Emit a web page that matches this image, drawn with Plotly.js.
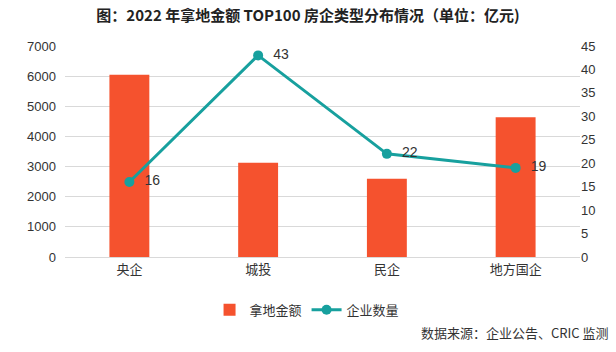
<!DOCTYPE html>
<html><head><meta charset="utf-8">
<script src="https://cdn.plot.ly/plotly-3.0.1.min.js"></script>
<style>body{margin:0;background:#fff}#c{width:616px;height:352px}</style>
</head><body><div id="c"></div>
<script>
const categories = ["央企", "城投", "民企", "地方国企"];
const landAmount = [6050, 3130, 2600, 4640];
const companyCount = [16, 43, 22, 19];
const leftTicks = [0, 1000, 2000, 3000, 4000, 5000, 6000, 7000];
const rightTicks = [0, 5, 10, 15, 20, 25, 30, 35, 40, 45];

const cjk = '"Noto Sans CJK SC", sans-serif';
const num = '"Liberation Sans", Arial, sans-serif';

const data = [
  {type: 'bar', x: categories, y: landAmount, name: '拿地金额',
   marker: {color: '#F5522E'}, width: 0.31, yaxis: 'y'},
  {type: 'scatter', mode: 'lines+markers+text', x: categories, y: companyCount,
   name: '企业数量', yaxis: 'y2',
   line: {color: '#17A09E', width: 3}, marker: {color: '#17A09E', size: 10},
   text: companyCount.map(v => '  ' + v), textposition: 'middle right',
   textfont: {family: num, size: 14, color: '#333'}}
];

const layout = {
  width: 616, height: 352,
  margin: {l: 65, r: 36, t: 46, b: 95},
  paper_bgcolor: '#fff', plot_bgcolor: '#fff',
  title: {text: '<b>图：2022 年拿地金额 TOP100 房企类型分布情况（单位：亿元)</b>',
          font: {family: cjk, size: 15, color: '#222', weight: 'normal'}, x: 0.5, xanchor: 'center', y: 0.955, yanchor: 'middle'},
  showlegend: true,
  legend: {orientation: 'h', x: 0.47, xanchor: 'center', y: -0.25, yanchor: 'middle',
           font: {family: cjk, size: 13, color: '#333'}, traceorder: 'normal', itemwidth: 30},
  xaxis: {tickfont: {family: cjk, size: 13, color: '#333'}, showline: true, linecolor: '#d9d9d9',
          ticks: '', showgrid: false},
  yaxis: {range: [0, 7000], tickvals: leftTicks, ticktext: leftTicks.map(String),
          tickfont: {family: num, size: 13, color: '#333'}, gridcolor: '#d9d9d9', gridwidth: 1,
          zeroline: false, ticks: '', ticklabelstandoff: 8},
  yaxis2: {range: [0, 45], tickvals: rightTicks, ticktext: rightTicks.map(String), overlaying: 'y', side: 'right',
           tickfont: {family: num, size: 13, color: '#333'}, showgrid: false, zeroline: false, ticks: ''},
  annotations: [{text: '数据来源：企业公告、CRIC 监测', xref: 'paper', yref: 'paper', x: 1.06, y: -0.36,
                 xanchor: 'right', yanchor: 'middle', showarrow: false,
                 font: {family: cjk, size: 13, color: '#333'}}]
};
Plotly.newPlot('c', data, layout, {displayModeBar: false, staticPlot: true});
</script></body></html>
